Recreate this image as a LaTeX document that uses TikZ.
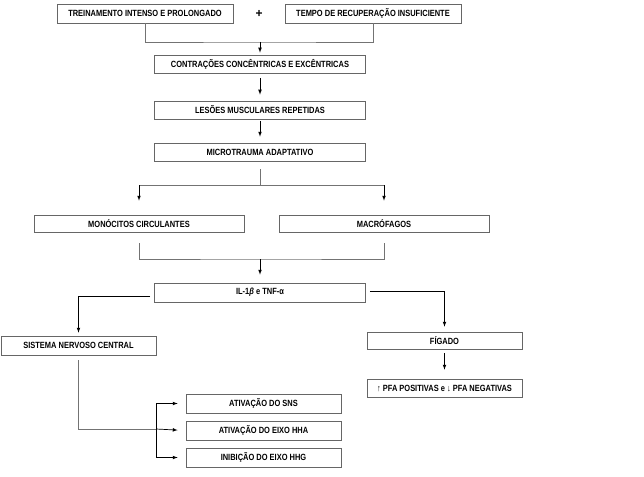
\documentclass[tikz,border=0pt]{standalone}
\usepackage{fontspec}
\setmainfont{Liberation Sans}
\newfontfamily\boxfont{Liberation Sans}[FakeStretch=0.83]
\usepackage{tikz}
\usetikzlibrary{shapes,arrows.meta,positioning,calc}
\tikzstyle{box} = [draw=black!60, line width=0.7pt, rectangle, inner sep=0pt, font=\boxfont\bfseries\fontsize{9}{10}\selectfont]
\tikzstyle{link} = [draw=black!55, line width=0.6pt]
\tikzstyle{flow} = [draw=black, line width=0.7pt, ->]
\tikzset{>=latex}

\begin{document}
\begin{tikzpicture}[x=1pt,y=-1pt]
    \useasboundingbox (0,0) rectangle (644,476);
    % top row
    \node [box, minimum width=176pt, minimum height=19pt] (treino) at (145,13.5) {TREINAMENTO INTENSO E PROLONGADO};
    \node [box, minimum width=176pt, minimum height=19pt] (tempo) at (373,13.5) {TEMPO DE RECUPERAÇÃO INSUFICIENTE};
    \node [font=\bfseries\fontsize{12}{13}\selectfont] (mais) at (259,14) {+};
    % central column
    \node [box, minimum width=211pt, minimum height=18pt] (contr) at (260,64) {CONTRAÇÕES CONCÊNTRICAS E EXCÊNTRICAS};
    \node [box, minimum width=211pt, minimum height=18pt] (lesoes) at (260,110) {LESÕES MUSCULARES REPETIDAS};
    \node [box, minimum width=211pt, minimum height=18pt] (micro) at (260,152) {MICROTRAUMA ADAPTATIVO};
    \node [box, minimum width=210pt, minimum height=17pt] (mono) at (139,223.5) {MONÓCITOS CIRCULANTES};
    \node [box, minimum width=210pt, minimum height=17pt] (macro) at (384,223.5) {MACRÓFAGOS};
    \node [box, minimum width=211pt, minimum height=19pt] (il) at (260,292.5) {IL-1\textit{β} e TNF-α};
    % branches
    \node [box, minimum width=155pt, minimum height=19pt] (snc) at (78.5,345.5) {SISTEMA NERVOSO CENTRAL};
    \node [box, minimum width=155pt, minimum height=17pt] (figado) at (444.5,340.5) {FÍGADO};
    \node [box, minimum width=155pt, minimum height=18pt] (pfa) at (444.5,388) {↑ PFA POSITIVAS e ↓ PFA NEGATIVAS};
    \node [box, minimum width=155pt, minimum height=19pt] (sns) at (263.5,403.5) {ATIVAÇÃO DO SNS};
    \node [box, minimum width=155pt, minimum height=19pt] (hha) at (263.5,430.5) {ATIVAÇÃO DO EIXO HHA};
    \node [box, minimum width=155pt, minimum height=19pt] (hhg) at (263.5,457.5) {INIBIÇÃO DO EIXO HHG};
    % junctions
    \coordinate (j1) at (260,42);
    \coordinate (j2) at (260,185);
    \coordinate (j3) at (260,259);
    \coordinate (j4) at (156,429);
    % connectors
    \draw [link] (treino.south) |- (j1) -| (tempo.south);
    \draw [flow, shorten >=2pt] (j1) -- (contr.north);
    \draw [flow, shorten <=5pt, shorten >=6pt] (contr.south) -- (lesoes.north);
    \draw [flow, shorten <=2pt, shorten >=6pt] (lesoes.south) -- (micro.north);
    \draw [link, shorten <=8pt] (micro.south) -- (j2);
    \draw [link] (j2 -| mono.north) -- (j2 -| macro.north);
    \draw [flow, shorten >=14pt] (j2 -| mono.north) -- (mono.north);
    \draw [flow, shorten >=14pt] (j2 -| macro.north) -- (macro.north);
    \draw [link, shorten <=11pt, shorten >=11pt] (mono.south) |- (j3) -| (macro.south);
    \draw [flow, shorten >=8pt] (j3) -- (il.north);
    \draw [flow, shorten <=4pt, shorten >=3pt] ([yshift=-3.5pt]il.west) -| (snc.north);
    \draw [flow, shorten <=4pt, shorten >=5pt] ([yshift=1.5pt]il.east) -| (figado.north);
    \draw [flow, shorten <=4pt, shorten >=9pt] (figado.south) -- (pfa.north);
    \draw [link, shorten <=5pt] (snc.south) |- (j4);
    \draw [flow, shorten >=8pt] (j4) -- (hha.west);
    \draw [flow, shorten >=8pt] (j4) |- (sns.west);
    \draw [flow, shorten >=8pt] (j4) |- (hhg.west);
\end{tikzpicture}
\end{document}
